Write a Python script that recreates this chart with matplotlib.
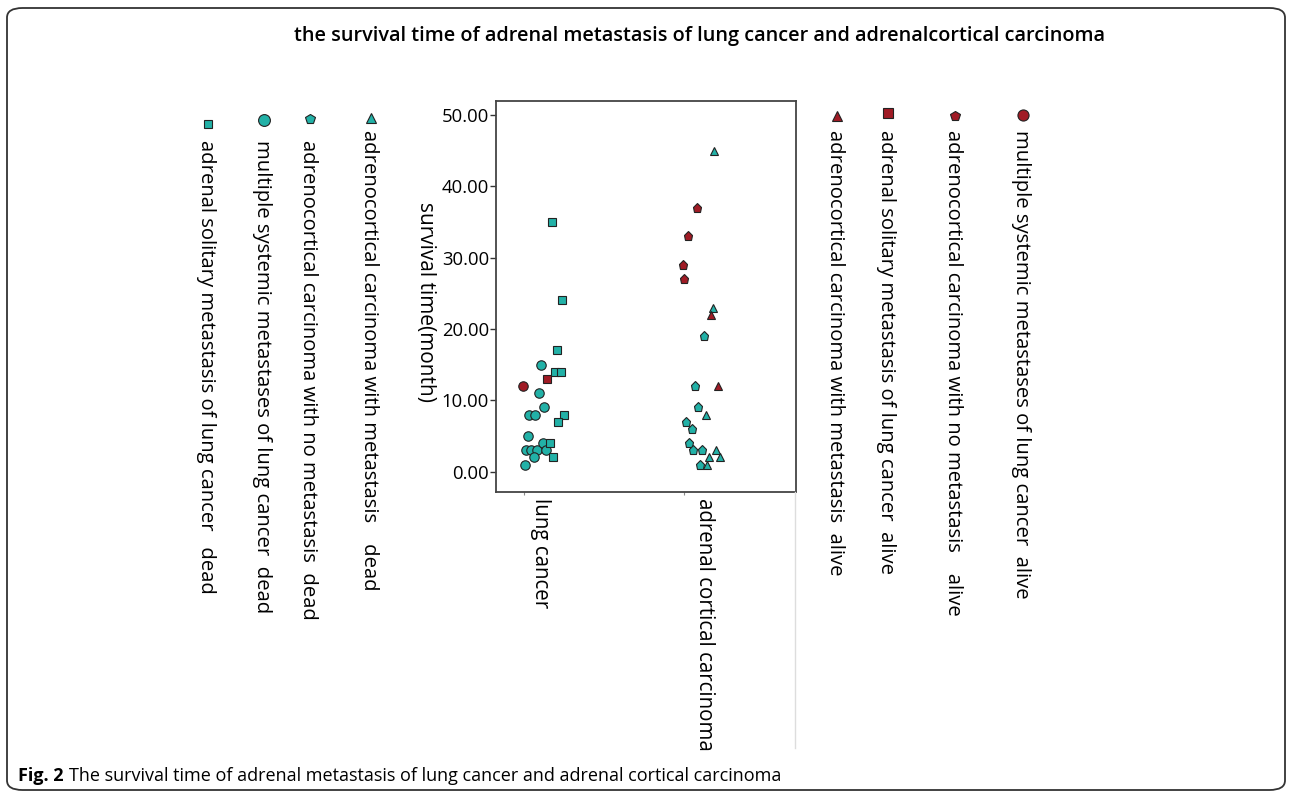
import matplotlib
matplotlib.use('Agg')
import matplotlib.pyplot as plt
from matplotlib.patches import FancyBboxPatch
from matplotlib.lines import Line2D

plt.rcParams['font.family'] = ['Open Sans', 'DejaVu Sans']

W, H = 1292, 795

TEAL = '#22b1a7'
RED = '#a01b25'

categories = ['lung cancer', 'adrenal cortical carcinoma']

# survival time (months) per patient group, with horizontal jitter inside the category
lung_mult_dead = [15, 11, 9, 8, 8, 5, 3, 3, 3, 4, 3, 2, 1]
lung_mult_dead_jit = [0.004, -0.006, 0.027, -0.067, -0.029, -0.073, -0.088, -0.054,
                      -0.021, 0.017, 0.037, -0.037, -0.094]
lung_mult_alive = [12]
lung_mult_alive_jit = [-0.104]
lung_solo_dead = [35, 24, 17, 14, 14, 8, 7, 4, 2]
lung_solo_dead_jit = [0.075, 0.139, 0.104, 0.094, 0.129, 0.15, 0.114, 0.062, 0.083]
lung_solo_alive = [13]
lung_solo_alive_jit = [0.046]

acc_nomet_alive = [37, 33, 29, 27]
acc_nomet_alive_jit = [-0.021, -0.077, -0.108, -0.098]
acc_nomet_dead = [19, 12, 9, 7, 6, 4, 3, 3, 1]
acc_nomet_dead_jit = [0.025, -0.031, -0.011, -0.088, -0.052, -0.067, -0.042, 0.014, 0.0]
acc_met_dead = [45, 23, 8, 3, 2, 2, 1]
acc_met_dead_jit = [0.089, 0.079, 0.036, 0.1, 0.125, 0.056, 0.046]
acc_met_alive = [22, 12]
acc_met_alive_jit = [0.069, 0.114]

yticks = [0, 10, 20, 30, 40, 50]

fig = plt.figure(figsize=(W / 100, H / 100), dpi=100)


def fx(px):
    return px / W


def fy(py):
    return 1 - py / H


# outer rounded frame
frame = FancyBboxPatch((fx(7), fy(790)), fx(1285) - fx(7), fy(8) - fy(790),
                       boxstyle='round,pad=0,rounding_size=0.012',
                       transform=fig.transFigure, fill=False,
                       edgecolor='#333333', linewidth=1.3)
fig.patches.append(frame)

ax = fig.add_axes([fx(496), fy(492), fx(796) - fx(496), fy(101) - fy(492)])

groups = [
    (1, lung_mult_dead, lung_mult_dead_jit, 'o', TEAL, 6.8),
    (1, lung_mult_alive, lung_mult_alive_jit, 'o', RED, 6.8),
    (1, lung_solo_dead, lung_solo_dead_jit, 's', TEAL, 6.3),
    (1, lung_solo_alive, lung_solo_alive_jit, 's', RED, 6.3),
    (2, acc_nomet_alive, acc_nomet_alive_jit, 'p', RED, 6.8),
    (2, acc_nomet_dead, acc_nomet_dead_jit, 'p', TEAL, 6.8),
    (2, acc_met_dead, acc_met_dead_jit, '^', TEAL, 6.0),
    (2, acc_met_alive, acc_met_alive_jit, '^', RED, 6.0),
]
for pos, vals, jit, mk, col, ms in groups:
    xs = [pos + j for j in jit]
    ax.plot(xs, vals, linestyle='none', marker=mk, color=col, markersize=ms,
            markeredgecolor='#222222', markeredgewidth=0.8)

ax.set_xlim(0.725, 2.6)
ax.set_ylim(-2.85, 51.96)
ax.set_yticks(yticks)
ax.set_yticklabels(['%.2f' % v for v in yticks], fontsize=13.3)
ax.tick_params(axis='y', length=4, width=1, pad=1, color='#333333')
ax.set_xticks([0.9, 1.9])
ax.set_xticklabels([])
ax.tick_params(axis='x', length=2, width=0.8, color='#888888')
for s in ax.spines.values():
    s.set_color('#444444')
    s.set_linewidth(1.3)

# category labels written downward
ax.text(1, -0.015, categories[0], transform=ax.get_xaxis_transform(), rotation=-90,
        ha='center', va='top', fontsize=14.8)
ax.text(2.03, -0.015, categories[1], transform=ax.get_xaxis_transform(), rotation=-90,
        ha='center', va='top', fontsize=14.8)

fig.text(fx(425), fy(302), 'survival time(month)', rotation=-90,
         ha='center', va='center', fontsize=15)

# faint guide line below the right spine
fig.add_artist(Line2D([fx(795), fx(795)], [fy(492), fy(748)],
                      color='#dddddd', linewidth=1, transform=fig.transFigure))

# legend entries: marker on top, label running downward
legend_items = [
    (208, 124, 's', TEAL, 5.5, 140, 'adrenal solitary metastasis of lung cancer   dead'),
    (264, 120, 'o', TEAL, 8.5, 140, 'multiple systemic metastases of lung cancer  dead'),
    (310, 119, 'p', TEAL, 7.5, 140, 'adrenocortical carcinoma with no metastasis  dead'),
    (371, 118, '^', TEAL, 6.5, 130, 'adrenocortical carcinoma with metastasis    dead'),
    (837, 116, '^', RED, 6.5, 130, 'adrenocortical carcinoma with metastasis  alive'),
    (888, 113, 's', RED, 7.5, 130, 'adrenal solitary metastasis of lung cancer  alive'),
    (955, 116, 'p', RED, 7.0, 130, 'adrenocortical carcinoma with no metastasis    alive'),
    (1023, 115, 'o', RED, 8.0, 130, 'multiple systemic metastases of lung cancer  alive'),
]
for mx, my, mk, col, ms, ty, label in legend_items:
    fig.add_artist(Line2D([fx(mx)], [fy(my)], marker=mk, color=col, markersize=ms,
                          markeredgecolor='#222222', markeredgewidth=0.8,
                          linestyle='none', transform=fig.transFigure))
    fig.text(fx(mx - 2), fy(ty), label, rotation=-90, ha='center', va='top',
             fontsize=14.6)

fig.text(fx(700), fy(36),
         'the survival time of adrenal metastasis of lung cancer and adrenalcortical carcinoma',
         ha='center', va='center', fontsize=14.3, fontweight='semibold')

# caption
cap1 = fig.text(fx(18), fy(776), 'Fig. 2', ha='left', va='center', fontsize=13,
                fontweight='bold')
r = fig.canvas.get_renderer()
bb = cap1.get_window_extent(renderer=r)
fig.text((bb.x1 + 5) / W, fy(776),
         'The survival time of adrenal metastasis of lung cancer and adrenal cortical carcinoma',
         ha='left', va='center', fontsize=13)

fig.savefig('out.png', dpi=100)
